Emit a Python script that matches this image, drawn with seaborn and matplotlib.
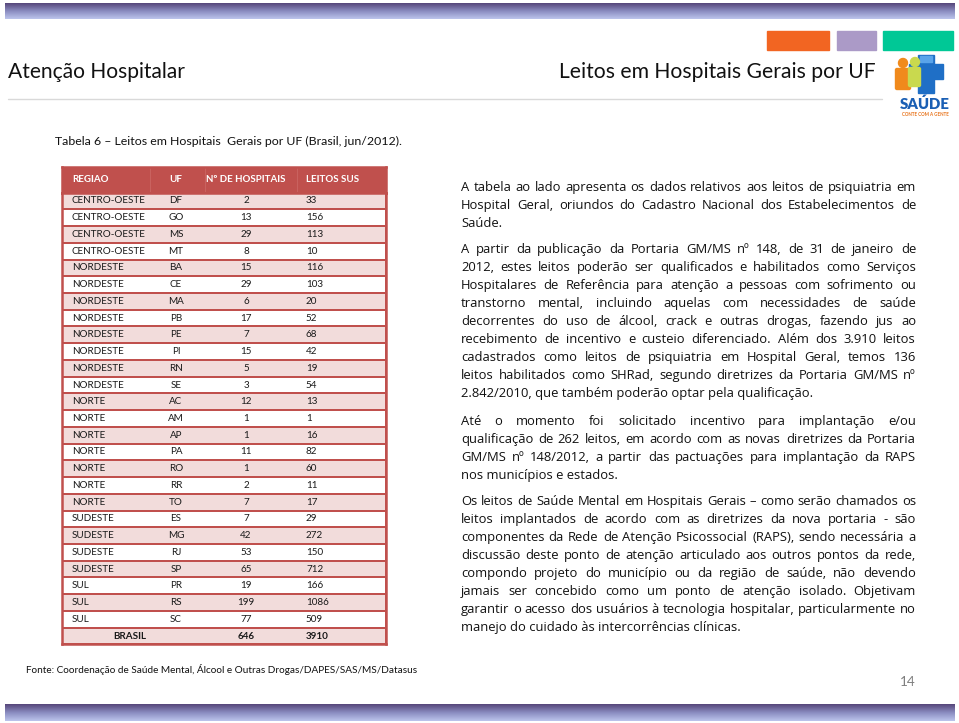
import numpy as np
import pandas as pd
import matplotlib
matplotlib.use("Agg")
import matplotlib.pyplot as plt
import seaborn as sns
from matplotlib.colors import ListedColormap, LinearSegmentedColormap
from matplotlib.patches import Rectangle, FancyBboxPatch, Circle

# dados da tabela 6
regioes = ["CENTRO-OESTE"] * 4 + ["NORDESTE"] * 8 + ["NORTE"] * 7 + ["SUDESTE"] * 4 + ["SUL"] * 3
ufs = ["DF", "GO", "MS", "MT", "BA", "CE", "MA", "PB", "PE", "PI", "RN", "SE",
       "AC", "AM", "AP", "PA", "RO", "RR", "TO", "ES", "MG", "RJ", "SP", "PR", "RS", "SC"]
hospitais = [2, 13, 29, 8, 15, 29, 6, 17, 7, 15, 5, 3, 12, 1, 1, 11, 1, 2, 7, 7, 42, 53, 65, 19, 199, 77]
leitos = [33, 156, 113, 10, 116, 103, 20, 52, 68, 42, 19, 54, 13, 1, 16, 82, 60, 11, 17, 29, 272, 150, 712, 166, 1086, 509]
cabecalho = ["REGIAO", "UF", "Nº DE HOSPITAIS", "LEITOS SUS"]

paragrafos = [
    ["A tabela ao lado apresenta os dados relativos aos leitos de psiquiatria em",
     "Hospital Geral, oriundos do Cadastro Nacional dos Estabelecimentos de",
     "Saúde."],
    ["A partir da publicação da Portaria GM/MS nº 148, de 31 de janeiro de",
     "2012, estes leitos poderão ser qualificados e habilitados como Serviços",
     "Hospitalares de Referência para atenção a pessoas com sofrimento ou",
     "transtorno mental, incluindo aquelas com necessidades de saúde",
     "decorrentes do uso de álcool, crack e outras drogas, fazendo jus ao",
     "recebimento de incentivo e custeio diferenciado. Além dos 3.910 leitos",
     "cadastrados como leitos de psiquiatria em Hospital Geral, temos 136",
     "leitos habilitados como SHRad, segundo diretrizes da Portaria GM/MS nº",
     "2.842/2010, que também poderão optar pela qualificação."],
    ["Até o momento foi solicitado incentivo para implantação e/ou",
     "qualificação de 262 leitos, em acordo com as novas diretrizes da Portaria",
     "GM/MS nº 148/2012, a partir das pactuações para implantação da RAPS",
     "nos municípios e estados."],
    ["Os leitos de Saúde Mental em Hospitais Gerais – como serão chamados os",
     "leitos implantados de acordo com as diretrizes da nova portaria - são",
     "componentes da Rede de Atenção Psicossocial (RAPS), sendo necessária a",
     "discussão deste ponto de atenção articulado aos outros pontos da rede,",
     "compondo projeto do município ou da região de saúde, não devendo",
     "jamais ser concebido como um ponto de atenção isolado. Objetivam",
     "garantir o acesso dos usuários à tecnologia hospitalar, particularmente no",
     "manejo do cuidado às intercorrências clínicas."],
]

df = pd.DataFrame({"regiao": regioes, "uf": ufs, "hospitais": hospitais, "leitos": leitos})

sns.set_theme(style="white")
plt.rcParams["font.family"] = ["Lato", "DejaVu Sans"]
fam_txt = ["Open Sans", "DejaVu Sans"]

W, H = 959, 723
fig = plt.figure(figsize=(W / 100, H / 100), dpi=100)
bg = fig.add_axes([0, 0, 1, 1])
bg.set_autoscale_on(False)
bg.set_xlim(0, W)
bg.set_ylim(H, 0)
bg.axis("off")
rend = fig.canvas.get_renderer()


def fit(s, largura, weight="normal", family=None):
    t = bg.text(0, 0, s, fontsize=10, fontweight=weight)
    if family:
        t.set_family(family)
    w = t.get_window_extent(rend).width
    t.remove()
    return 10 * largura / w


# barras em degradê (topo e rodapé)
grad = np.linspace(0, 1, 60).reshape(-1, 1)
cm_barra = LinearSegmentedColormap.from_list("barra", ["#56467a", "#8a8cc0", "#bcc4ec"])
bg.imshow(grad, cmap=cm_barra, extent=(5, 955, 19, 3), aspect="auto")
bg.imshow(grad, cmap=cm_barra, extent=(5, 955, 721, 704), aspect="auto")

# quadrados coloridos
bg.add_patch(Rectangle((767, 31), 62, 19, color="#f26522"))
bg.add_patch(Rectangle((837, 31), 39, 19, color="#ab9ac7"))
bg.add_patch(Rectangle((883, 31), 70, 19, color="#00c896"))

# títulos
bg.text(8, 78, "Atenção Hospitalar", fontsize=fit("Atenção Hospitalar", 178),
        va="baseline", color="#111111")
bg.text(876, 78, "Leitos em Hospitais Gerais por UF",
        fontsize=fit("Leitos em Hospitais Gerais por UF", 317), va="baseline", ha="right", color="#111111")
bg.plot([8, 882], [99, 99], color="#d9d9d9", lw=1)

# logo
bg.add_patch(Rectangle((918, 55), 16, 38, color="#1f6fc6"))
bg.add_patch(Rectangle((909, 64), 34, 15, color="#1f6fc6"))
bg.add_patch(Rectangle((920, 56), 12, 6, color="#5aa4ea"))
bg.add_patch(FancyBboxPatch((897, 70), 12, 18, boxstyle="round,pad=1.5", color="#f08a1c"))
bg.add_patch(Circle((903, 63), 4.5, color="#f08a1c"))
bg.add_patch(FancyBboxPatch((910, 69), 9, 16, boxstyle="round,pad=1.5", color="#c9d94e"))
bg.add_patch(Circle((915, 62), 4.5, color="#c9d94e"))
bg.text(925, 104, "SAÚDE", fontsize=fit("SAÚDE", 50, "heavy"), fontweight="heavy",
        ha="center", va="center", color="#1a5fb4")
bg.text(925, 114, "CONTE COM A GENTE", fontsize=fit("CONTE COM A GENTE", 48, "bold"),
        fontweight="bold", ha="center", va="center", color="#e8741c")

# legenda da tabela
cap = "Tabela 6 – Leitos em Hospitais  Gerais por UF (Brasil, jun/2012)."
bg.text(55, 145, cap, fontsize=fit(cap, 348), va="baseline", color="#111111")

# tabela: cabeçalho e corpo como heatmaps
x0, x1 = 62, 386
y_top, y_hdr, y_bot = 167, 192.6, 644.4
vermelho = "#c0504d"


def fx(px):
    return (px - x0) / (x1 - x0)


hdr = fig.add_axes([x0 / W, 1 - y_hdr / H, (x1 - x0) / W, (y_hdr - y_top) / H])
sns.heatmap(np.zeros((1, 1)), cmap=ListedColormap([vermelho]), cbar=False, ax=hdr,
            xticklabels=False, yticklabels=False)
for px in (150, 205, 297):
    hdr.axvline(fx(px), color="#c9625f", lw=0.8)

n = len(df) + 1
faixas = pd.DataFrame({"cor": np.arange(n) % 2})
body = fig.add_axes([x0 / W, 1 - y_bot / H, (x1 - x0) / W, (y_bot - y_hdr) / H])
sns.heatmap(faixas, cmap=ListedColormap(["#f2dcdb", "#ffffff"]), vmin=0, vmax=1, cbar=False,
            linewidths=1.1, linecolor=vermelho, ax=body, xticklabels=False, yticklabels=False)
for ax in (hdr, body):
    for sp in ax.spines.values():
        sp.set_visible(True)
        sp.set_color(vermelho)
        sp.set_linewidth(1.8)

fs_tab = fit("CENTRO-OESTE", 73)
fs_hdr = fit("Nº DE HOSPITAIS", 80, "bold")
hdr_pos = [(72, "left"), (176, "center"), (246, "center"), (306, "left")]
for txt, (px, ha) in zip(cabecalho, hdr_pos):
    hdr.text(fx(px), 0.5, txt, ha=ha, va="center", color="white", fontsize=fs_hdr, fontweight="bold")

tc = "#1a1a1a"
for i, r in df.iterrows():
    y = i + 0.5
    body.text(fx(72), y, r["regiao"], ha="left", va="center", fontsize=fs_tab, color=tc)
    body.text(fx(176), y, r["uf"], ha="center", va="center", fontsize=fs_tab, color=tc)
    body.text(fx(246), y, str(r["hospitais"]), ha="center", va="center", fontsize=fs_tab, color=tc)
    body.text(fx(306), y, str(r["leitos"]), ha="left", va="center", fontsize=fs_tab, color=tc)
yb = n - 0.5
body.text(fx(130), yb, "BRASIL", ha="center", va="center", fontsize=fs_tab, fontweight="bold", color=tc)
body.text(fx(246), yb, str(df["hospitais"].sum()), ha="center", va="center", fontsize=fs_tab,
          fontweight="bold", color=tc)
body.text(fx(306), yb, str(df["leitos"].sum()), ha="left", va="center", fontsize=fs_tab,
          fontweight="bold", color=tc)

# texto justificado à direita
tx0, tx1 = 461, 916
fs_txt = fit("2.842/2010, que também poderão optar pela qualificação.", 353, family=fam_txt)
inicios = [186, 248, 420, 500]
for par, y0 in zip(paragrafos, inicios):
    for k, linha in enumerate(par):
        y = y0 + 18 * k + 5
        if k == len(par) - 1:
            bg.text(tx0, y, linha, fontsize=fs_txt, va="baseline", color="#111111", family=fam_txt)
            continue
        palavras = linha.split(" ")
        ts = [bg.text(0, y, p, fontsize=fs_txt, va="baseline", color="#111111", family=fam_txt)
              for p in palavras]
        ws = [t.get_window_extent(rend).width for t in ts]
        gap = (tx1 - tx0 - sum(ws)) / (len(palavras) - 1)
        x = tx0
        for t, w in zip(ts, ws):
            t.set_x(x)
            x += w + gap

# rodapé
fonte = "Fonte: Coordenação de Saúde Mental, Álcool e Outras Drogas/DAPES/SAS/MS/Datasus"
bg.text(26, 673, fonte, fontsize=fit(fonte, 389), va="baseline", color="#111111")
bg.text(916, 686, "14", fontsize=fit("14", 16), va="baseline", ha="right", color="#7f7f7f")

fig.savefig("out.png", dpi=100)
